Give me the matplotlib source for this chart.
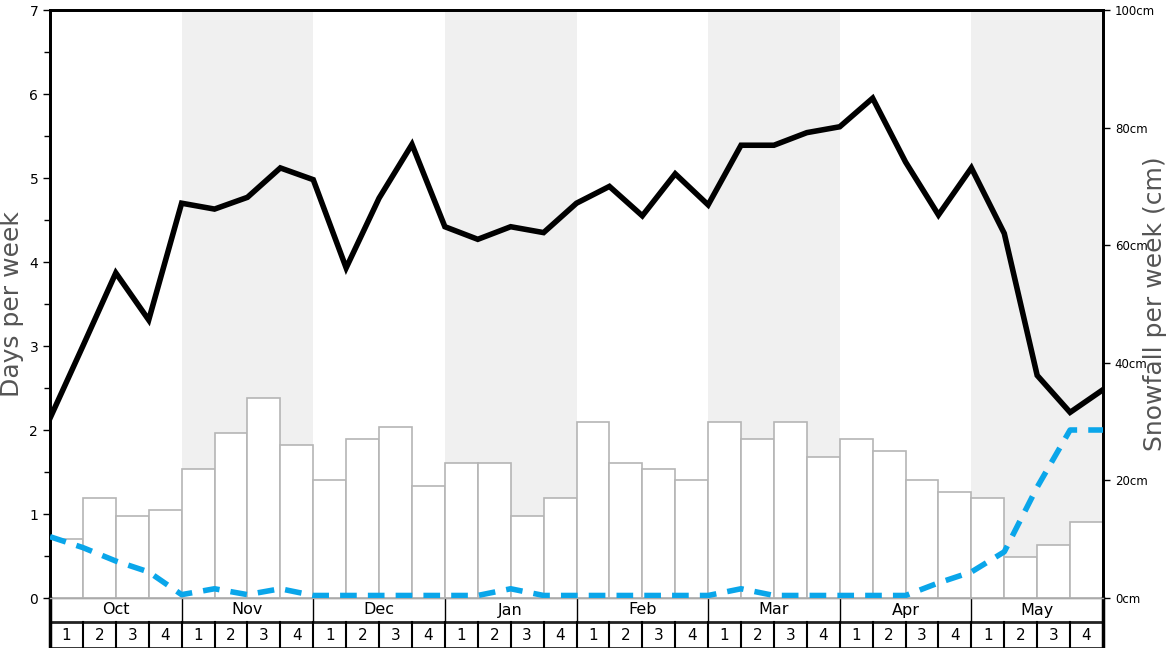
import matplotlib
matplotlib.use("Agg")
import matplotlib.pyplot as plt
import numpy as np

# weekly data, Oct wk1 .. May wk4
months = ["Oct", "Nov", "Dec", "Jan", "Feb", "Mar", "Apr", "May"]
week_labels = ["1", "2", "3", "4"]

snowfall_cm = [10, 17, 14, 15, 22, 28, 34, 26, 20, 27, 29, 19, 23, 23, 14, 17,
               30, 23, 22, 20, 30, 27, 30, 24, 27, 25, 20, 18, 17, 7, 9, 13]

# line values at week boundaries (33 points)
days_black = [2.14, 3.00, 3.87, 3.31, 4.70, 4.63, 4.77, 5.12, 4.98, 3.93, 4.76,
              5.40, 4.42, 4.27, 4.42, 4.35, 4.70, 4.90, 4.55, 5.05, 4.68, 5.39,
              5.39, 5.54, 5.61, 5.95, 5.19, 4.56, 5.12, 4.34, 2.65, 2.21, 2.48]
days_blue = [0.73, 0.60, 0.44, 0.31, 0.04, 0.11, 0.04, 0.11, 0.03, 0.03, 0.03,
             0.03, 0.03, 0.03, 0.11, 0.03, 0.03, 0.03, 0.03, 0.03, 0.03, 0.11,
             0.03, 0.03, 0.03, 0.03, 0.03, 0.18, 0.31, 0.55, 1.32, 2.00, 2.00]

W, H = 1168, 648
fig = plt.figure(figsize=(W / 100, H / 100), dpi=100)
L, R, T, B = 50, 1103, 10, 598
ax2 = fig.add_axes([L / W, (H - B) / H, (R - L) / W, (B - T) / H])
ax = ax2.twinx()
ax.set_zorder(ax2.get_zorder() + 1)
ax.patch.set_visible(False)

n = len(snowfall_cm)
# alternate month shading
for m in range(len(months)):
    if m % 2 == 1:
        ax2.axvspan(m * 4, m * 4 + 4, color="#f0f0f0", lw=0, zorder=0)

ax2.bar(np.arange(n) + 0.5, snowfall_cm, width=1.0, color="white",
        edgecolor="#b5b5b5", linewidth=1.2, zorder=2)
ax2.set_ylim(0, 100)
ax2.set_xlim(0, n)

xb = np.arange(n + 1)
ax.plot(xb, days_black, color="black", lw=4, solid_joinstyle="miter", zorder=5)
ax.plot(xb, days_blue, color="#0aa6ea", lw=4, dashes=(3, 2), zorder=4)
ax.set_ylim(0, 7)
ax.set_xlim(0, n)

# left axis: days (ax is twin, move its ticks to the left)
ax.yaxis.tick_left()
ax.set_yticks(range(8))
ax.set_yticks(np.arange(0.5, 7, 1), minor=True)
ax.tick_params(axis="y", which="major", labelsize=10, length=5, width=1)
ax.tick_params(axis="y", which="minor", length=4, width=1)

ax2.yaxis.tick_right()
cm_ticks = [0, 20, 40, 60, 80, 100]
ax2.set_yticks(cm_ticks)
ax2.set_yticklabels([f"{t}cm" for t in cm_ticks])
ax2.tick_params(axis="y", labelsize=8.5, length=5, width=1)

fig.text(12 / W, 1 - 304 / H, "Days per week", rotation=90, fontsize=18,
         color="#555555", ha="center", va="center")
fig.text(1155 / W, 1 - 304 / H, "Snowfall per week (cm)", rotation=90,
         fontsize=18, color="#555555", ha="center", va="center")

for a in (ax, ax2):
    a.set_xticks([])
    for s in a.spines.values():
        s.set_linewidth(2)
    a.spines["bottom"].set_color("#aaaaaa")
    a.spines["bottom"].set_linewidth(1)

# month / week table under the axes
tab = fig.add_axes([L / W, 0, (R - L) / W, (H - B) / H])
tab.set_xlim(0, n)
tab.set_ylim(0, 50)
tab.axis("off")
tab.axhline(26, color="#222222", lw=2)
tab.axhline(0.5, color="#222222", lw=2)
for m, name in enumerate(months):
    tab.text(m * 4 + 2, 38, name, ha="center", va="center", fontsize=11.5)
    if m > 0:
        tab.plot([m * 4, m * 4], [26, 50], color="black", lw=1)
    for k, wl in enumerate(week_labels):
        tab.text(m * 4 + k + 0.5, 12, wl, ha="center", va="center", fontsize=11)
for i in range(1, n):
    tab.plot([i, i], [0, 26], color="black", lw=1.5)
for xx in (0, n):
    tab.plot([xx, xx], [0, 50], color="black", lw=2.5, clip_on=False)

fig.savefig("out.png", dpi=100)
